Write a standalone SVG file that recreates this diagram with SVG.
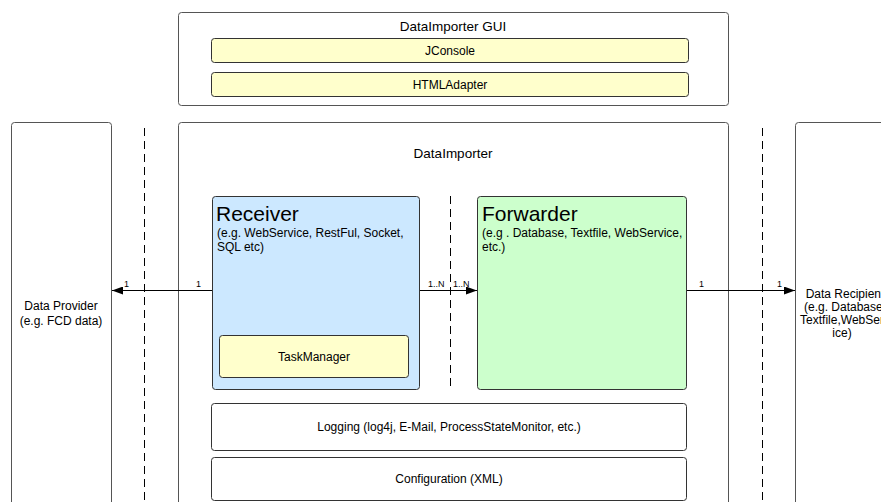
<svg xmlns="http://www.w3.org/2000/svg" width="881" height="502" viewBox="0 0 881 502">
<defs>
<marker id="ah" markerWidth="11" markerHeight="8" refX="11" refY="4" orient="auto" markerUnits="userSpaceOnUse">
<path d="M0,0 L11,4 L0,8 z" fill="#000"/>
</marker>
<style>
text{font-family:"Liberation Sans",Arial,sans-serif;fill:#000}
.outer{fill:#fff;stroke:#555;stroke-width:1}
.yel{fill:#ffffcc;stroke:#333;stroke-width:1}
.wht{fill:#fff;stroke:#333;stroke-width:1}
.dash{stroke:#000;stroke-width:1;stroke-dasharray:8,5;fill:none}
.conn{stroke:#000;stroke-width:1;fill:none}
.s12{font-size:12px}
.s13{font-size:13.5px}
.s9{font-size:9px}
.big{font-size:21px}
</style>
</defs>
<rect width="881" height="502" fill="#fff"/>

<g id="gui">
<rect class="outer" x="178.5" y="12.5" width="550" height="93" rx="3"/>
<text class="s13" x="453" y="31" text-anchor="middle">DataImporter GUI</text>
</g>
<g id="jconsole">
<rect class="yel" x="211.5" y="38.5" width="477" height="24" rx="3"/>
<text class="s12" x="450" y="54.5" text-anchor="middle">JConsole</text>
</g>
<g id="htmladapter">
<rect class="yel" x="211.5" y="72.5" width="477" height="24" rx="3"/>
<text class="s12" x="450" y="88.5" text-anchor="middle">HTMLAdapter</text>
</g>

<g id="provider">
<rect class="outer" x="11.5" y="122.5" width="100" height="400" rx="3"/>
<text class="s12" x="61" y="310" text-anchor="middle">Data Provider</text>
<text class="s12" x="61" y="325" text-anchor="middle">(e.g. FCD data)</text>
</g>

<g id="dataimporter">
<rect class="outer" x="178.5" y="122.5" width="550" height="400" rx="3"/>
<text class="s13" x="453" y="158" text-anchor="middle">DataImporter</text>
</g>

<g id="recipient">
<rect class="outer" x="795.5" y="122.5" width="120" height="400" rx="3"/>
<text class="s12" x="845" y="298" text-anchor="middle">Data Recipient</text>
<text class="s12" x="845" y="311" text-anchor="middle">(e.g. Database,</text>
<text class="s12" x="845" y="324" text-anchor="middle">Textfile,WebServ</text>
<text class="s12" x="842" y="337" text-anchor="middle">ice)</text>
</g>

<g id="receiver">
<rect x="212.5" y="196.5" width="207" height="193" rx="3" fill="#cce8ff" stroke="#333"/>
<text class="big" x="216" y="221">Receiver</text>
<text class="s12" x="217" y="237">(e.g. WebService, RestFul, Socket,</text>
<text class="s12" x="217" y="251">SQL etc)</text>
</g>
<g id="taskmanager">
<rect class="yel" x="219.5" y="335.5" width="189" height="42" rx="3"/>
<text class="s12" x="314" y="361" text-anchor="middle">TaskManager</text>
</g>

<g id="forwarder">
<rect x="477.5" y="196.5" width="209" height="193" rx="3" fill="#ccffcc" stroke="#333"/>
<text class="big" x="482" y="221">Forwarder</text>
<text class="s12" x="482" y="237">(e.g . Database, Textfile, WebService,</text>
<text class="s12" x="482" y="251">etc.)</text>
</g>

<g id="logging">
<rect class="wht" x="211.5" y="403.5" width="475" height="47" rx="3"/>
<text class="s12" x="449" y="431" text-anchor="middle">Logging (log4j, E-Mail, ProcessStateMonitor, etc.)</text>
</g>
<g id="configuration">
<rect class="wht" x="211.5" y="457.5" width="475" height="43" rx="3"/>
<text class="s12" x="449" y="483" text-anchor="middle">Configuration (XML)</text>
</g>

<g id="connectors">
<line class="dash" x1="144.5" y1="128" x2="144.5" y2="502"/>
<line class="dash" x1="762.5" y1="128" x2="762.5" y2="502"/>
<line class="dash" x1="450.5" y1="196" x2="450.5" y2="390"/>
<line class="conn" x1="212" y1="290.5" x2="112" y2="290.5" marker-end="url(#ah)"/>
<text class="s9" x="124" y="287">1</text>
<text class="s9" x="196" y="287">1</text>
<line class="conn" x1="420" y1="290.5" x2="477" y2="290.5" marker-end="url(#ah)"/>
<text class="s9" x="428" y="287">1..N</text>
<text class="s9" x="453" y="287">1..N</text>
<line class="conn" x1="687" y1="290.5" x2="795" y2="290.5" marker-end="url(#ah)"/>
<text class="s9" x="699" y="287">1</text>
<text class="s9" x="777" y="287">1</text>
</g>
</svg>
